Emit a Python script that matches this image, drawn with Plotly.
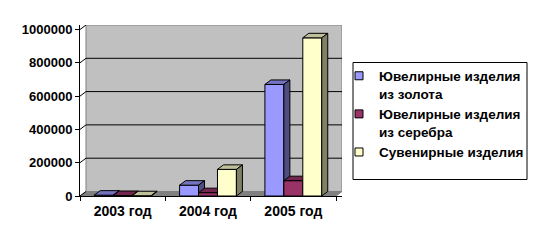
import plotly.graph_objects as go

# ---- data ----
categories = ["2003 год", "2004 год", "2005 год"]
series_names = ["Ювелирные изделия<br>из золота", "Ювелирные изделия<br>из серебра", "Сувенирные изделия"]
gold = [5000, 65000, 670000]
silver = [3000, 20000, 92000]
souvenir = [1500, 160000, 950000]
y_ticks = [0, 200000, 400000, 600000, 800000, 1000000]

series_values = [gold, silver, souvenir]
front_colors = ["#9999FF", "#993366", "#FFFFCC"]
top_colors = ["#7373BF", "#73264D", "#BFBF99"]
side_colors = ["#4D4D80", "#4D1A33", "#808066"]

# ---- geometry (pixel-based styling) ----
W, H = 538, 243
ML, MT = 80, 25
plot_w, plot_h = 262, 171
MR, MB = W - ML - plot_w, H - MT - plot_h
front_units = 3.0
px_per_unit = 256 / front_units
DX = 6 / px_per_unit
YMAX = max(y_ticks)
px_per_val = 166 / YMAX
DY = 4.5 / px_per_val
x_range = [-0.5, 2.5 + DX]
y_range = [0, YMAX + DY]
BW = 0.222
xs = list(range(len(categories)))

FONT = "Liberation Sans, Arial, sans-serif"

fig = go.Figure()

axis_names = [("x", "y"), ("x2", "y2"), ("x3", "y3")]
for i, vals in enumerate(series_values):
    xa, ya = axis_names[i]
    off = -1.5 * BW + i * BW
    fig.add_trace(go.Bar(x=xs, y=vals, width=BW, offset=off, xaxis=xa, yaxis=ya,
                         marker=dict(color=front_colors[i], line=dict(color="black", width=1)),
                         showlegend=False, hoverinfo="skip"))
    tx, ty, sx, sy = [], [], [], []
    for j, v in enumerate(vals):
        x0 = xs[j] + off
        x1 = x0 + BW
        tx += [x0, x1, x1 + DX, x0 + DX, x0, None]
        ty += [v, v, v + DY, v + DY, v, None]
        sx += [x1, x1, x1 + DX, x1 + DX, x1, None]
        sy += [0, v, v + DY, DY, 0, None]
    fig.add_trace(go.Scatter(x=tx, y=ty, xaxis=xa, yaxis=ya, mode="lines", fill="toself",
                             fillcolor=top_colors[i], line=dict(color="black", width=1),
                             showlegend=False, hoverinfo="skip"))
    fig.add_trace(go.Scatter(x=sx, y=sy, xaxis=xa, yaxis=ya, mode="lines", fill="toself",
                             fillcolor=side_colors[i], line=dict(color="black", width=1),
                             showlegend=False, hoverinfo="skip"))

# legend entries
for i, name in enumerate(series_names):
    fig.add_trace(go.Scatter(x=[None], y=[None], mode="markers", name=name,
                             marker=dict(symbol="square", size=8, color=front_colors[i],
                                         line=dict(color="black", width=1))))

shapes = []
# back wall
shapes.append(dict(type="rect", xref="x", yref="y", x0=-0.5 + DX, x1=2.5 + DX, y0=DY, y1=YMAX + DY,
                   fillcolor="#C0C0C0", line=dict(color="#808080", width=1), layer="below"))
# floor
shapes.append(dict(type="path", xref="x", yref="y",
                   path=f"M{-0.5},0 L{2.5},0 L{2.5 + DX},{DY} L{-0.5 + DX},{DY} Z",
                   fillcolor="#808080", line=dict(color="#808080", width=1), layer="below"))
for v in y_ticks:
    if 0 < v < YMAX:
        shapes.append(dict(type="line", xref="x", yref="y", x0=-0.5 + DX, x1=2.5 + DX,
                           y0=v + DY, y1=v + DY, line=dict(color="black", width=1), layer="below"))
    shapes.append(dict(type="line", xref="x", yref="y", x0=-0.5, x1=-0.5 + DX,
                       y0=v, y1=v + DY, line=dict(color="black", width=1), layer="below"))
# legend box
lx0, lx1, ly0, ly1 = 353, 527, 62.5, 179.5
shapes.append(dict(type="rect", xref="paper", yref="paper",
                   x0=(lx0 - ML) / plot_w, x1=(lx1 - ML) / plot_w,
                   y0=(MT + plot_h - ly1) / plot_h, y1=(MT + plot_h - ly0) / plot_h,
                   fillcolor="white", line=dict(color="black", width=1), layer="below"))

tickfont = dict(family=FONT, size=13, color="black", weight="bold")
xtickfont = dict(family=FONT, size=14, color="black", weight="bold")
hidden = dict(range=x_range, showgrid=False, zeroline=False, showticklabels=False, ticks="",
              showline=False, fixedrange=True)

leg_left, leg_top = 339, 60.5

fig.update_layout(
    width=W, height=H, margin=dict(l=ML, r=MR, t=MT, b=MB, pad=0, autoexpand=False),
    paper_bgcolor="white", plot_bgcolor="white",
    shapes=shapes,
    xaxis=dict(range=x_range, tickvals=xs, ticktext=categories, ticks="", showgrid=False,
               zeroline=False, showline=True, linecolor="black", linewidth=1, tickfont=xtickfont,
               ticklabelstandoff=2),
    yaxis=dict(range=y_range, tickvals=y_ticks, ticks="outside", ticklen=4, tickcolor="black",
               showgrid=False, zeroline=False, showline=True, linecolor="black", linewidth=1,
               tickfont=tickfont, tickformat="d"),
    xaxis2=dict(hidden, overlaying="x", matches="x", anchor="y2",
                tickvals=[-0.5, 0.5, 1.5, 2.5], ticks="outside", ticklen=4, tickcolor="black"),
    yaxis2=dict(range=y_range, overlaying="y", matches="y", anchor="x2", showgrid=False,
                zeroline=False, showticklabels=False, ticks="", showline=False),
    xaxis3=dict(hidden, overlaying="x", matches="x", anchor="y3"),
    yaxis3=dict(range=y_range, overlaying="y", matches="y", anchor="x3", showgrid=False,
                zeroline=False, showticklabels=False, ticks="", showline=False),
    legend=dict(x=(leg_left - ML) / plot_w, y=(MT + plot_h - leg_top) / plot_h,
                xanchor="left", yanchor="top",
                bgcolor="rgba(0,0,0,0)", borderwidth=0, valign="top",
                font=dict(family=FONT, size=13.5, color="black", weight="bold")),
    showlegend=True,
)

fig.write_html("out.html")
